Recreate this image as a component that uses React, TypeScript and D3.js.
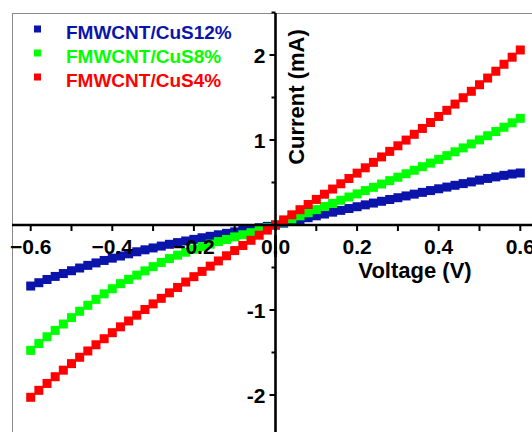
import React from "react"
import * as d3 from "d3"

// voltage sweep, -0.6 V .. 0.6 V in 0.02 V steps
const voltage = d3.range(61).map(i => Math.round((-0.6 + i * 0.02) * 100) / 100)

const cus12 = [-0.718,-0.679,-0.641,-0.605,-0.571,-0.538,-0.506,-0.475,-0.446,-0.417,-0.39,-0.365,-0.339,-0.315,-0.292,-0.27,-0.248,-0.227,-0.207,-0.188,-0.169,-0.15,-0.133,-0.115,-0.098,-0.081,-0.065,-0.048,-0.032,-0.016,0,
  0.022,0.043,0.065,0.086,0.108,0.129,0.151,0.172,0.194,0.215,0.237,0.258,0.279,0.3,0.321,0.342,0.363,0.384,0.405,0.426,0.446,0.467,0.487,0.507,0.528,0.548,0.566,0.584,0.6,0.612]
const cus8 = [-1.475,-1.395,-1.315,-1.24,-1.165,-1.09,-1.015,-0.945,-0.875,-0.81,-0.75,-0.69,-0.64,-0.59,-0.54,-0.49,-0.44,-0.395,-0.355,-0.32,-0.285,-0.255,-0.225,-0.195,-0.17,-0.14,-0.115,-0.09,-0.06,-0.03,0,
  0.036,0.072,0.108,0.144,0.181,0.217,0.254,0.291,0.329,0.366,0.405,0.443,0.482,0.522,0.562,0.603,0.644,0.686,0.728,0.772,0.816,0.861,0.907,0.954,1.001,1.05,1.1,1.15,1.202,1.255]
const cus4 = [-2.027,-1.945,-1.864,-1.785,-1.708,-1.631,-1.556,-1.482,-1.409,-1.338,-1.267,-1.198,-1.129,-1.061,-0.994,-0.928,-0.863,-0.798,-0.735,-0.671,-0.608,-0.546,-0.484,-0.423,-0.362,-0.301,-0.241,-0.18,-0.12,-0.06,0,
  0.06,0.12,0.18,0.241,0.301,0.362,0.423,0.485,0.547,0.61,0.673,0.737,0.801,0.866,0.932,0.999,1.067,1.136,1.206,1.277,1.349,1.422,1.497,1.573,1.65,1.729,1.809,1.891,1.974,2.059]

const seriesNames = ["FMWCNT/CuS12%", "FMWCNT/CuS8%", "FMWCNT/CuS4%"]
const seriesColors = ["#0b14aa", "#00ff00", "#ff0000"]
const seriesValues = [cus12, cus8, cus4]

const xMajor = [-0.6, -0.4, -0.2, 0, 0.2, 0.4, 0.6]
const yMajor = [-2, -1, 1, 2]

const W = 532, H = 432
const font = "'Liberation Sans', Arial, sans-serif"

const App = () => {
  const x = d3.scaleLinear().domain([-0.6, 0.6]).range([30.7, 520.3])
  const y = d3.scaleLinear().domain([-2, 2]).range([395, 55])
  const x0 = x(0), y0 = y(0)
  const xMinor = d3.range(-6, 7).map(d => d / 10)
  const yMinor = d3.range(-5, 6).map(d => d / 2).filter(d => !Number.isInteger(d))
  const fmt = d3.format(".1f")
  const ms = 9

  return (
    <svg width={W} height={H} style={{ position: "absolute", left: 0, top: 0, background: "#fff" }}
      fontFamily={font} fontWeight="bold">
      <rect x={12.5} y={13.5} width={W} height={H} fill="none" stroke="#8a8a8a" strokeWidth={1} />

      {seriesValues.map((vals, si) => (
        <g key={si} fill={seriesColors[si]}>
          {vals.map((v, i) => (
            <rect key={i} x={x(voltage[i]) - ms / 2} y={y(v) - ms / 2} width={ms} height={ms} />
          ))}
        </g>
      ))}

      {/* axes through the origin */}
      <line x1={12} x2={W} y1={y0} y2={y0} stroke="#000" strokeWidth={2.6} />
      <line x1={x0} x2={x0} y1={13} y2={H} stroke="#000" strokeWidth={2.6} />
      {xMinor.map(t => (
        <line key={t} x1={x(t)} x2={x(t)} y1={y0} y2={y0 + 6} stroke="#000" strokeWidth={2} />
      ))}
      {yMajor.map(t => (
        <line key={t} x1={x0} x2={x0 - 6} y1={y(t)} y2={y(t)} stroke="#000" strokeWidth={2} />
      ))}
      {yMinor.map(t => (
        <line key={t} x1={x0} x2={x0 - 4} y1={y(t)} y2={y(t)} stroke="#000" strokeWidth={2} />
      ))}
      {xMajor.map(t => (
        <text key={t} x={x(t)} y={y0 + 29} fontSize={21} textAnchor="middle">{fmt(t)}</text>
      ))}
      <line x1={x0} x2={x0} y1={y0 + 10} y2={y0 + 32} stroke="#000" strokeWidth={2.6} />
      {yMajor.map(t => (
        <text key={t} x={x0 - 10} y={y(t) + 7.5} fontSize={21} textAnchor="end">{t}</text>
      ))}

      <text x={415} y={278} fontSize={22} textAnchor="middle">Voltage (V)</text>
      <text transform={`translate(304,97) rotate(-90)`} fontSize={22} textAnchor="middle">Current (mA)</text>

      {seriesNames.map((n, i) => (
        <g key={n} fill={seriesColors[i]}>
          <rect x={34} y={29 + i * 24 - 3.5} width={7} height={7} />
          <text x={66} y={39 + i * 24} fontSize={19}>{n}</text>
        </g>
      ))}
    </svg>
  )
}

export default App
